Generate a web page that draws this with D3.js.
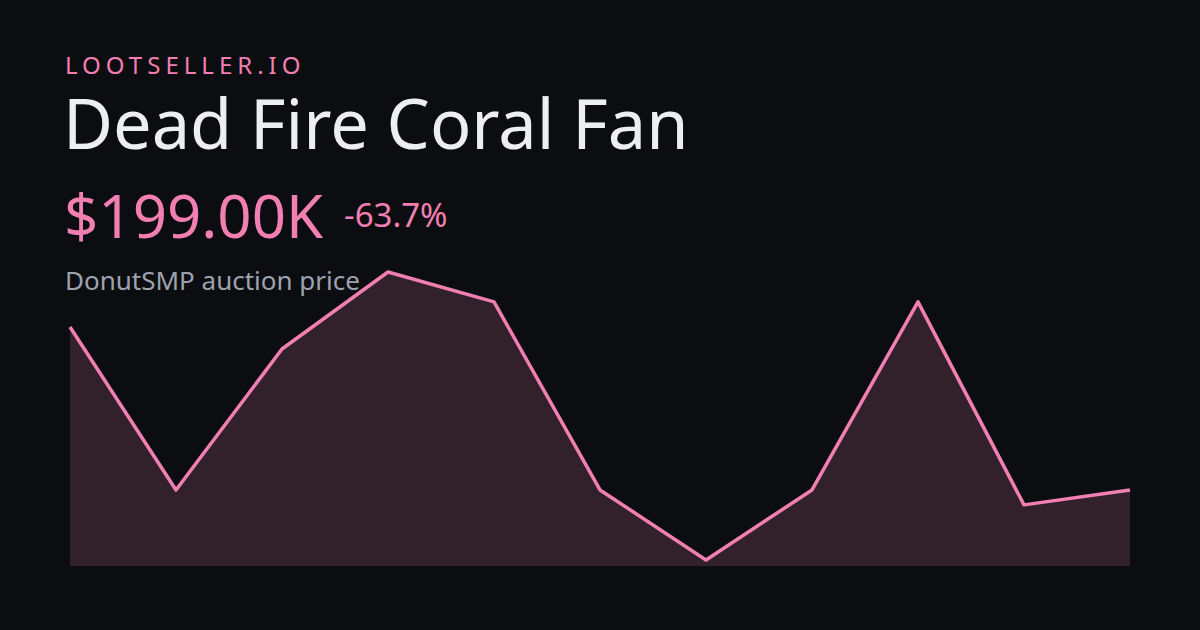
<!DOCTYPE html>
<html>
<head>
<meta charset="utf-8">
<script src="https://cdn.jsdelivr.net/npm/d3@7"></script>
<style>
  body { margin: 0; background: #0c0d10; }
  text { font-family: "Noto Sans", sans-serif; }
</style>
</head>
<body>
<script>
// Price history (thousands of $), oldest to newest
var periods = [0, 1, 2, 3, 4, 5, 6, 7, 8, 9, 10];
var prices = [548, 199, 501, 666, 602, 199, 49, 199, 602, 167, 199];

var svgWidth = 1200;
var svgHeight = 630;
var pink = "#f27fb2";

var svg = d3.select("body")
  .append("svg")
  .attr("width", svgWidth)
  .attr("height", svgHeight);

svg.append("rect")
  .attr("width", svgWidth)
  .attr("height", svgHeight)
  .attr("fill", "#0c0d10");

var x = d3.scaleLinear()
  .domain([0, periods.length - 1])
  .range([70, 1130]);

var y = d3.scaleLinear()
  .domain([36, 666])
  .range([566, 272]);

var data = periods.map((p, i) => ({ p: p, v: prices[i] }));

svg.append("path")
  .datum(data)
  .attr("fill", "#32202b")
  .attr("d", d3.area().x(d => x(d.p)).y0(y(36)).y1(d => y(d.v)));

svg.append("path")
  .datum(data)
  .attr("fill", "none")
  .attr("stroke", pink)
  .attr("stroke-width", 3.5)
  .attr("stroke-linejoin", "round")
  .attr("d", d3.line().x(d => x(d.p)).y(d => y(d.v)));

// Header text
svg.append("text")
  .attr("x", 65).attr("y", 74)
  .attr("fill", pink)
  .attr("font-size", 24)
  .attr("letter-spacing", 5)
  .text("LOOTSELLER.IO");

svg.append("text")
  .attr("x", 63).attr("y", 149)
  .attr("fill", "#eceef2")
  .attr("font-size", 68.5)
  .text("Dead Fire Coral Fan");

var last = prices[prices.length - 1];
var change = (last - prices[0]) / prices[0] * 100;

svg.append("text")
  .attr("x", 64).attr("y", 238)
  .attr("fill", pink)
  .attr("font-size", 60)
  .text("$" + last.toFixed(2) + "K");

svg.append("text")
  .attr("x", 344).attr("y", 227)
  .attr("fill", pink)
  .attr("font-size", 33)
  .text(change.toFixed(1) + "%");

svg.append("text")
  .attr("x", 65).attr("y", 290)
  .attr("fill", "#9ca3af")
  .attr("font-size", 26)
  .text("DonutSMP auction price");
</script>
</body>
</html>
